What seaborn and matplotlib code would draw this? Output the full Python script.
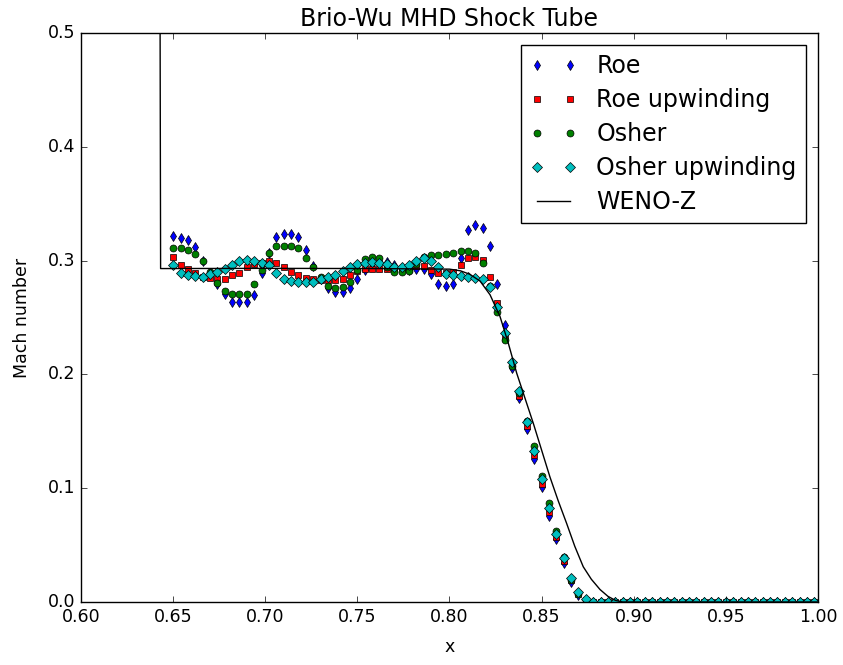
import numpy as np
import pandas as pd
import matplotlib
matplotlib.use("Agg")
import matplotlib.pyplot as plt
import seaborn as sns

# ---------------- data ----------------
x_start = 0.65
x_step = 0.004
n_pts = 88
x_vals = [round(x_start + x_step * i, 4) for i in range(n_pts)]
tail = [0.0] * 31

roe = [0.322, 0.320, 0.318, 0.312, 0.300, 0.289, 0.279, 0.271, 0.264, 0.264,
       0.264, 0.270, 0.289, 0.307, 0.321, 0.323, 0.323, 0.321, 0.309, 0.295,
       0.284, 0.276, 0.272, 0.272, 0.276, 0.284, 0.292, 0.297, 0.300, 0.299,
       0.296, 0.293, 0.292, 0.293, 0.293, 0.288, 0.279, 0.278, 0.279, 0.302,
       0.327, 0.331, 0.329, 0.313, 0.279, 0.243, 0.206, 0.179, 0.152, 0.126,
       0.101, 0.076, 0.055, 0.034, 0.018, 0.006, 0.0015] + tail

roe_up = [0.3035, 0.296, 0.293, 0.289, 0.286, 0.285, 0.284, 0.284, 0.287, 0.289,
          0.294, 0.297, 0.298, 0.300, 0.298, 0.294, 0.290, 0.287, 0.285, 0.284,
          0.283, 0.283, 0.283, 0.284, 0.287, 0.291, 0.293, 0.293, 0.293, 0.293,
          0.293, 0.293, 0.293, 0.295, 0.295, 0.292, 0.289, 0.289, 0.290, 0.296,
          0.302, 0.3035, 0.3005, 0.286, 0.263, 0.232, 0.208, 0.181, 0.155, 0.129,
          0.104, 0.079, 0.057, 0.036, 0.019, 0.007, 0.002] + tail

osher = [0.311, 0.311, 0.309, 0.3055, 0.300, 0.290, 0.280, 0.273, 0.271, 0.271,
         0.271, 0.279, 0.292, 0.307, 0.313, 0.313, 0.3125, 0.311, 0.302, 0.294,
         0.286, 0.2775, 0.276, 0.277, 0.281, 0.292, 0.301, 0.303, 0.302, 0.294,
         0.290, 0.290, 0.291, 0.297, 0.303, 0.305, 0.305, 0.306, 0.307, 0.308,
         0.3085, 0.307, 0.2976, 0.278, 0.255, 0.230, 0.207, 0.184, 0.159, 0.137,
         0.111, 0.087, 0.062, 0.040, 0.0196, 0.0073, 0.002] + tail

osher_up = [0.296, 0.2894, 0.2873, 0.2865, 0.286, 0.288, 0.290, 0.293, 0.296, 0.300,
            0.3005, 0.300, 0.298, 0.296, 0.289, 0.284, 0.282, 0.2815, 0.281, 0.281,
            0.284, 0.286, 0.2873, 0.291, 0.2947, 0.2967, 0.298, 0.299, 0.298, 0.2967,
            0.2947, 0.2947, 0.296, 0.300, 0.302, 0.300, 0.294, 0.288, 0.2873, 0.2865,
            0.286, 0.285, 0.284, 0.277, 0.2595, 0.236, 0.211, 0.185, 0.1585, 0.133,
            0.108, 0.083, 0.060, 0.039, 0.021, 0.0085, 0.0026] + tail

weno_x = [0.600, 0.6428, 0.6432, 0.700, 0.760, 0.800, 0.806, 0.811, 0.8166, 0.822,
          0.8274, 0.832, 0.8365, 0.841, 0.8455, 0.850, 0.8545, 0.859, 0.8636, 0.868,
          0.8726, 0.877, 0.8817, 0.886, 0.890, 0.894, 1.000]
weno_y = [0.600, 0.600, 0.293, 0.2932, 0.293, 0.2925, 0.291, 0.288, 0.282, 0.270,
          0.251, 0.227, 0.201, 0.179, 0.157, 0.1335, 0.110, 0.089, 0.069, 0.049,
          0.031, 0.020, 0.011, 0.005, 0.0015, 0.0, 0.0]

title = "Brio-Wu MHD Shock Tube"
xlabel = "x"
ylabel = "Mach number"
xticks = [0.60, 0.65, 0.70, 0.75, 0.80, 0.85, 0.90, 0.95, 1.00]
yticks = [0.0, 0.1, 0.2, 0.3, 0.4, 0.5]

# ---------------- plot ----------------
plt.style.use("classic")
plt.rcParams["font.family"] = ["DejaVu Sans"]

fig = plt.figure(figsize=(8.43, 6.65), dpi=100, facecolor="white")
ax = fig.add_axes([0.0961, 0.0947, 0.9703 - 0.0961, 0.9504 - 0.0947])

series = [
    ("Roe", roe, "d", "b"),
    ("Roe upwinding", roe_up, "s", "r"),
    ("Osher", osher, "o", "g"),
    ("Osher upwinding", osher_up, "D", "c"),
]
for label, ys, mk, col in series:
    df = pd.DataFrame({"x": x_vals, "y": ys})
    sns.lineplot(data=df, x="x", y="y", ax=ax, marker=mk, linestyle="",
                 color=col, markeredgecolor="k", markeredgewidth=0.5,
                 markersize=5, label=label, estimator=None, sort=False)

wdf = pd.DataFrame({"x": weno_x, "y": weno_y})
sns.lineplot(data=wdf, x="x", y="y", ax=ax, color="k", linewidth=1.0,
             label="WENO-Z", estimator=None, sort=False)

ax.set_xlim(0.6, 1.0)
ax.set_ylim(0.0, 0.5)
ax.set_xticks(xticks)
ax.set_yticks(yticks)
ax.set_xticklabels([f"{t:.2f}" for t in xticks])
ax.set_yticklabels([f"{t:.1f}" for t in yticks])
ax.tick_params(labelsize=12.5)
ax.set_title(title, fontsize=17)
ax.set_xlabel(xlabel, fontsize=12.5, labelpad=9)
ax.set_ylabel(ylabel, fontsize=12.5, labelpad=12)
ax.legend(loc="upper right", numpoints=2, fontsize=17, labelspacing=0.42)

fig.savefig("out.png", dpi=100, facecolor="white")
